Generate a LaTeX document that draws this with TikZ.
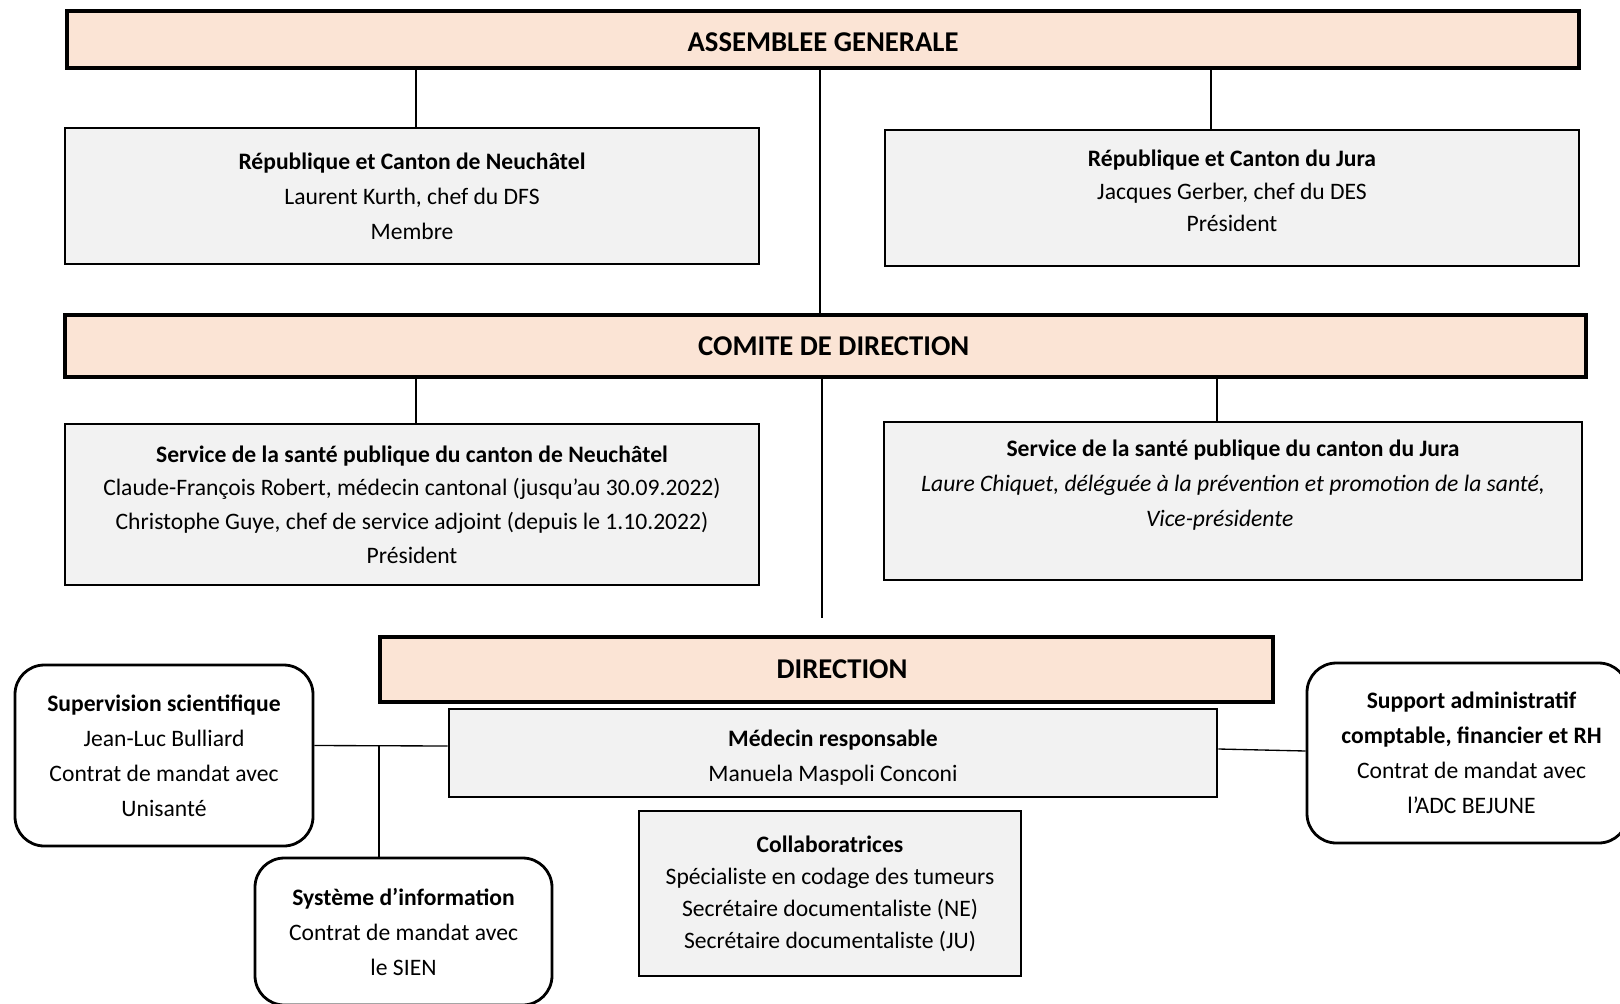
\documentclass[tikz,border=0pt]{standalone}
\usepackage{fontspec}
\setmainfont{Carlito}
\usetikzlibrary{calc}
\definecolor{peach}{HTML}{FBE4D5}
\definecolor{greyfill}{HTML}{F2F2F2}
\begin{document}
\begin{tikzpicture}[x=0.75pt,y=-0.75pt,
  head/.style={draw, line width=2.3pt, fill=peach, inner sep=0pt,
    font=\fontsize{21.5}{26}\selectfont\bfseries},
  gbox/.style={draw, line width=2.1pt, fill=greyfill, align=center, inner sep=0pt,
    font=\fontsize{17.7}{26.25}\selectfont},
  rbox/.style={draw, line width=2.1pt, rounded corners=22pt, fill=white, align=center, inner sep=0pt,
    font=\fontsize{17.7}{26.25}\selectfont},
  conn/.style={line width=1pt},
  mainline/.style={line width=1.6pt}]
\fill[white] (0,0) rectangle (1620,1003);
\useasboundingbox (0,0) rectangle (1620,1003);

% top level
\node[head, minimum width=1134pt, minimum height=42.75pt, text height=18.3pt, text depth=0pt] (AG) at (823,39.5) {ASSEMBLEE GENERALE};
\node[gbox, minimum width=520.5pt, minimum height=102pt] (rNE) at (412,196)
  {\textbf{République et Canton de Neuchâtel}\\Laurent Kurth, chef du DFS\\Membre};
\node[gbox, minimum width=520.5pt, minimum height=102pt, font=\fontsize{17.7}{24.4}\selectfont] (rJU) at (1232,198)
  {\textbf{République et Canton du Jura}\\Jacques Gerber, chef du DES\\Président\\[-14pt]\mbox{}};

% comite
\node[head, minimum width=1140.75pt, minimum height=46.5pt] (CD) at (825.5,346) {\hspace*{12.4pt}COMITE DE DIRECTION};
\node[gbox, minimum width=520.5pt, minimum height=120.75pt, font=\fontsize{17.7}{25.2}\selectfont] (sNE) at (412,504.5)
  {\textbf{Service de la santé publique du canton de Neuchâtel}\\
   Claude-François Robert, médecin cantonal (jusqu’au 30.09.2022)\\
   Christophe Guye, chef de service adjoint (depuis le 1.10.2022)\\
   Président};
\node[gbox, minimum width=523.5pt, minimum height=118.5pt] (sJU) at (1233,501)
  {\textbf{Service de la santé publique du canton du Jura}\\
   \itshape Laure Chiquet, déléguée à la prévention et promotion de la santé,\\
   \itshape Vice-présidente\rule{20pt}{0pt}\\ \mbox{}};

% direction
\node[head, minimum width=669.75pt, minimum height=48.75pt] (DIR) at (826.5,669.5) {\hspace*{23.3pt}DIRECTION};
\node[gbox, minimum width=576pt, minimum height=66pt] (MED) at (833,753)
  {\rule{0pt}{19pt}\textbf{Médecin responsable}\\Manuela Maspoli Conconi};
\node[gbox, minimum width=286.5pt, minimum height=123.75pt, font=\fontsize{17.7}{24}\selectfont] (COL) at (830,893.5)
  {\textbf{Collaboratrices}\\Spécialiste en codage des tumeurs\\Secrétaire documentaliste (NE)\\Secrétaire documentaliste (JU)};

% side boxes
\node[rbox, minimum width=223.5pt, minimum height=135.75pt] (SUP) at (164,755.5)
  {\textbf{Supervision scientifique}\\Jean-Luc Bulliard\\Contrat de mandat avec\\Unisanté};
\node[rbox, minimum width=222.75pt, minimum height=110.25pt] (SYS) at (403.5,931.5)
  {\textbf{Système d’information}\\Contrat de mandat avec\\le SIEN};
\node[rbox, minimum width=240.75pt, minimum height=135pt] (ADM) at (1467.5,753)
  {\hspace*{6pt}\textbf{Support administratif}\\\hspace*{6pt}\textbf{comptable, financier et RH}\\\hspace*{6pt}Contrat de mandat avec\\\hspace*{6pt}l’ADC BEJUNE};

% connectors
\draw[conn] (rNE.north) ++(4,0) coordinate (a1) -- (a1 |- AG.south);
\draw[conn] ($(rJU.north)+(-21,0)$) coordinate (a2) -- (a2 |- AG.south);
\draw[mainline] ($(AG.south)+(-3,0)$) coordinate (m1) -- (m1 |- CD.north);
\coordinate (mend) at (822,618);
\draw[mainline] (mend |- CD.south) -- (mend);
\draw[conn] (sNE.north) ++(4,0) coordinate (b1) -- (b1 |- CD.south);
\draw[conn] ($(sJU.north)+(-16,0)$) coordinate (b2) -- (b2 |- CD.south);
\draw[conn] ($(SUP.east)+(0,-10)$) -- ($(MED.west)+(0,-7)$);
\coordinate (j1) at (379,745.5);
\draw[conn] (j1) -- (j1 |- SYS.north);
\draw[conn] ($(MED.east)+(0,-4)$) -- ($(ADM.west)+(0,-2)$);
\end{tikzpicture}
\end{document}
